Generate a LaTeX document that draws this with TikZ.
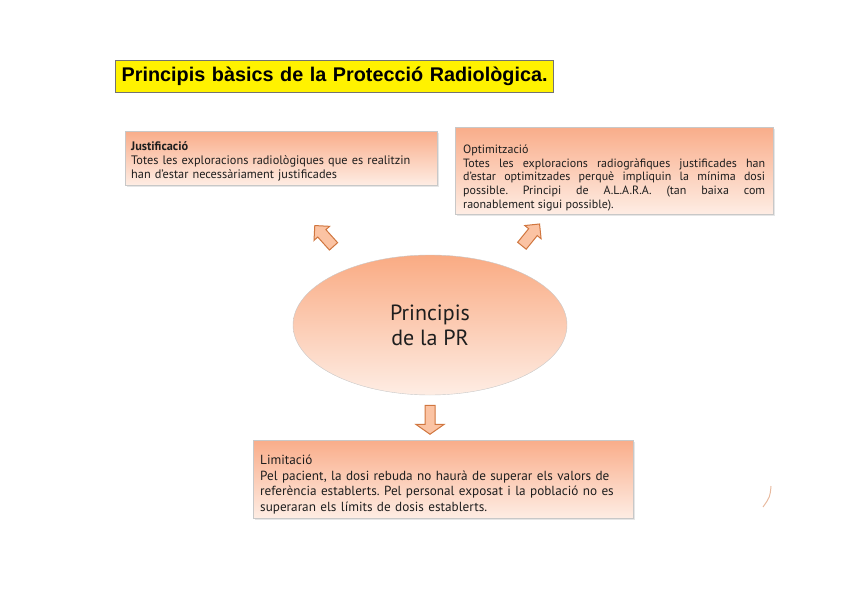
\documentclass[tikz,border=0pt]{standalone}
\usepackage{fontspec}
\setmainfont{PT Sans}
\newfontfamily\titlefont{Liberation Sans}
\usepackage{tikz}
\usetikzlibrary{positioning,shapes.geometric,shapes.arrows,shadows}

\definecolor{salmontop}{HTML}{F9AD8A}
\definecolor{salmonbot}{HTML}{FEEDE4}
\definecolor{arrfill}{HTML}{FBC3A3}
\definecolor{arrline}{HTML}{D0763F}
\definecolor{boxline}{HTML}{C8C8C8}
\definecolor{txt}{HTML}{1E1E1E}

% extra room above the first line of a box
\newcommand{\topgap}[1]{\rule{0pt}{#1}}

\begin{document}
\frenchspacing
\begin{tikzpicture}[
    x=1pt, y=-1pt,
    title/.style={draw=gray!90!black, line width=1.4pt, fill=yellow, anchor=north west,
      minimum height=32pt, inner xsep=6pt, text width=426pt, align=left,
      font=\titlefont\bfseries\fontsize{19.8}{22}\selectfont},
    pbox/.style={draw=boxline, anchor=north west, top color=salmontop, bottom color=salmonbot,
      drop shadow={shadow xshift=2pt, shadow yshift=-2pt, opacity=0.2},
      text=txt, inner ysep=2pt},
    blk/.style={single arrow, draw=arrline, fill=arrfill, line width=1pt,
      inner sep=5pt, single arrow head extend=5pt},
  ]
  \useasboundingbox (0,0) rectangle (848,599);

  % title
  \node[title] (tit) at (115,60) {Principis bàsics de la Protecció Radiològica.};

  % the three principles
  \node[pbox, minimum width=312pt, minimum height=54pt, inner xsep=6pt, text width=300pt,
    align=left, font=\fontsize{12.3}{14}\selectfont] (just) at (125,131)
    {\topgap{15.5pt}\textbf{Justificació}\\Totes les exploracions radiològiques que es realitzin\\han d’estar necessàriament justificades};
  \node[pbox, minimum width=318pt, minimum height=87pt, inner xsep=8pt, text width=302pt,
    align=justify, font=\fontsize{12}{13.8}\selectfont] (optim) at (455,127)
    {\topgap{23pt}Optimització\\Totes les exploracions radiogràfiques justificades han\linebreak
     d'estar optimitzades perquè impliquin la mínima dosi\linebreak
     possible. Principi de A.L.A.R.A. (tan baixa com\linebreak
     raonablement sigui possible).};
  \node[pbox, minimum width=380pt, minimum height=78pt, inner xsep=7pt, text width=366pt,
    align=left, font=\fontsize{13.2}{15.6}\selectfont] (limit) at (253,440)
    {\topgap{20pt}Limitació\\Pel pacient, la dosi rebuda no haurà de superar els valors de\\referència establerts. Pel personal exposat i la població no es\\superaran els límits de dosis establerts.};

  % centre
  \node[ellipse, draw=boxline, top color=salmontop!95!orange, bottom color=salmonbot,
    minimum width=274pt, minimum height=140pt, align=center, text=txt,
    font=\fontsize{22}{25}\selectfont] (princ) at (430,325) {Principis\\de la PR};

  % block arrows
  \node[blk, minimum height=28pt, rotate=132] (aj) at (326,238) {};
  \node[blk, minimum height=28pt, rotate=51] (ao) at (529,237) {};
  \node[blk, minimum height=29pt, inner sep=4.5pt, rotate=-90,
    single arrow head extend=9pt, single arrow tip angle=110] (al) at (430,418) {};

  % stray mark at the right edge
  \draw[arrline!50, line width=1pt] (771,486) .. controls (770,497) .. (763,507);
\end{tikzpicture}
\end{document}
